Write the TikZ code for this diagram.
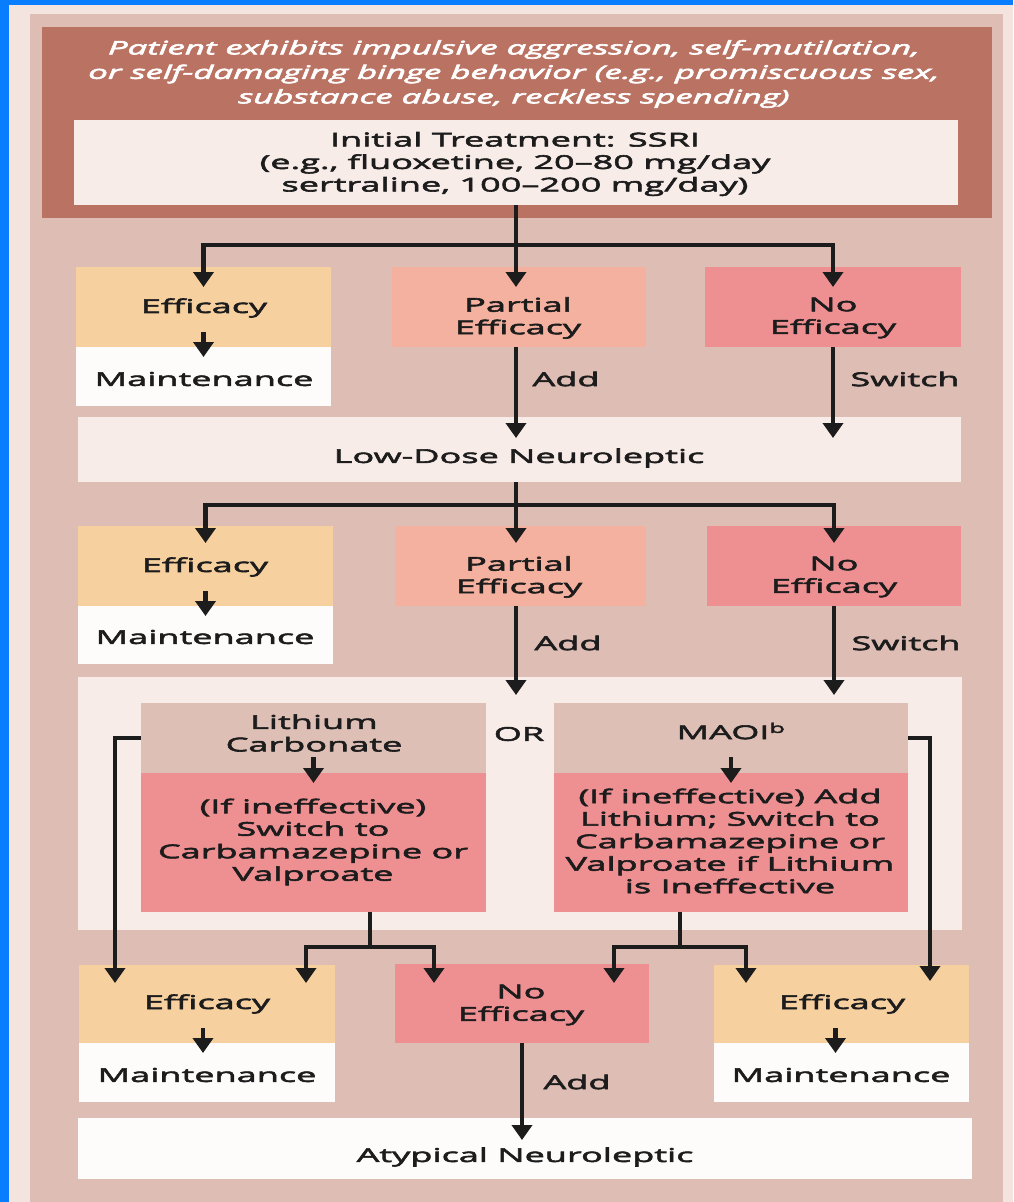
\documentclass[tikz,border=0pt]{standalone}
\usepackage{fontspec}
\setmainfont[FakeStretch=1.9,FakeBold=3]{Open Sans}
\newfontfamily\headfont[FakeStretch=1.88,FakeBold=3.5]{Open Sans}
\usetikzlibrary{arrows.meta,calc}

\definecolor{frameblue}{RGB}{8,126,255}
\definecolor{paper}{RGB}{243,228,224}
\definecolor{sheet}{RGB}{222,189,181}
\definecolor{headbrown}{RGB}{186,115,99}
\definecolor{lightbox}{RGB}{248,236,233}
\definecolor{goodbox}{RGB}{247,208,160}
\definecolor{partbox}{RGB}{244,177,159}
\definecolor{nobox}{RGB}{238,143,146}
\definecolor{tanbox}{RGB}{221,191,181}
\definecolor{whitebox}{RGB}{254,252,251}
\definecolor{ink}{RGB}{28,28,28}

\tikzset{
  blk/.style={rectangle, inner sep=0pt, outer sep=0pt, draw=none},
  lbl/.style={inner sep=0pt, align=center, text=ink, font=\fontsize{19}{22.5}\selectfont},
  headlbl/.style={inner sep=0pt, align=center, text=white, font=\headfont\itshape\fontsize{18.5}{24.5}\selectfont},
  wire/.style={draw=ink, line width=4.5pt},
  flow/.style={wire, -{Triangle[width=20pt,length=15pt]}},
}

% filled box given by its corners (x1,y1) and (x2,y2), y measured downwards
\newcommand\rectnode[6]{%
  \node[blk, fill=#2, minimum width={(#5-#3)*1pt}, minimum height={(#6-#4)*1pt}]
    (#1) at ({(#3+#5)/2},{(#4+#6)/2}) {};}

\begin{document}
\begin{tikzpicture}[x=1pt,y=-1pt]
\useasboundingbox (0,0) rectangle (1013,1202);

% page ground
\fill[frameblue] (0,0) rectangle (1013,1202);
\fill[paper] (9,5) rectangle (1013,1202);
\fill[sheet] (30,14) rectangle (1003,1202);

% boxes
\rectnode{hd}{headbrown}{42}{27}{992}{218}
\rectnode{init}{lightbox}{74}{120}{958}{205}
\rectnode{e1}{goodbox}{76}{267}{331}{347}
\rectnode{m1}{whitebox}{76}{347}{331}{406}
\rectnode{p1}{partbox}{392}{267}{646}{347}
\rectnode{n1}{nobox}{705}{267}{961}{347}
\rectnode{ld}{lightbox}{78}{417}{961}{482}
\rectnode{e2}{goodbox}{78}{526}{333}{606}
\rectnode{m2}{whitebox}{78}{606}{333}{664}
\rectnode{p2}{partbox}{395}{526}{646}{606}
\rectnode{n2}{nobox}{707}{526}{961}{606}
\rectnode{opt}{lightbox}{78}{677}{962}{930}
\rectnode{li}{tanbox}{141}{703}{486}{773}
\rectnode{lip}{nobox}{141}{773}{486}{912}
\rectnode{ma}{tanbox}{554}{703}{908}{773}
\rectnode{map}{nobox}{554}{773}{908}{912}
\rectnode{e3}{goodbox}{79}{965}{335}{1043}
\rectnode{m3}{whitebox}{79}{1043}{335}{1102}
\rectnode{n3}{nobox}{395}{964}{649}{1043}
\rectnode{e4}{goodbox}{714}{965}{969}{1043}
\rectnode{m4}{whitebox}{714}{1043}{969}{1102}
\rectnode{at}{whitebox}{78}{1118}{972}{1179}

% texts
\node[headlbl] (hdt) at (514,74) {Patient exhibits impulsive aggression, self-mutilation,\\or self-damaging binge behavior (e.g., promiscuous sex,\\substance abuse, reckless spending)};
\node[lbl] (initt) at (515,164) {Initial Treatment: SSRI\\(e.g., fluoxetine, 20–80 mg/day\\sertraline, 100–200 mg/day)};
\node[lbl] (e1t) at (204,308) {Efficacy};
\node[lbl] (m1t) at (204,379) {Maintenance};
\node[lbl] (p1t) at (518,318) {Partial\\Efficacy};
\node[lbl] (n1t) at (833,318) {No\\Efficacy};
\node[lbl] (ldt) at (519,458) {Low-Dose Neuroleptic};
\node[lbl] (e2t) at (205,567) {Efficacy};
\node[lbl] (m2t) at (205,637) {Maintenance};
\node[lbl] (p2t) at (519,577) {Partial\\Efficacy};
\node[lbl] (n2t) at (834,577) {No\\Efficacy};
\node[lbl] (lit) at (314,733) {Lithium\\Carbonate};
\node[lbl] (lipt) at (313,842) {(If ineffective)\\Switch to\\Carbamazepine or\\Valproate};
\node[lbl] (ort) at (519,734) {OR};
\node[lbl] (mat) at (731,731) {MAOI\textsuperscript{b}};
\node[lbl] (mapt) at (730,841) {(If ineffective) Add\\Lithium; Switch to\\Carbamazepine or\\Valproate if Lithium\\is Ineffective};
\node[lbl] (e3t) at (207,1004) {Efficacy};
\node[lbl] (m3t) at (207,1075) {Maintenance};
\node[lbl] (n3t) at (521,1005) {No\\Efficacy};
\node[lbl] (e4t) at (842,1004) {Efficacy};
\node[lbl] (m4t) at (841,1075) {Maintenance};
\node[lbl] (att) at (525,1157) {Atypical Neuroleptic};
\node[lbl] (add1) at (566,379) {Add};
\node[lbl] (sw1) at (905,379) {Switch};
\node[lbl] (add2) at (568,643) {Add};
\node[lbl] (sw2) at (906,643) {Switch};
\node[lbl] (add3) at (577,1082) {Add};

% first branching
\coordinate (j1) at ($(init.south)+(0,40)$);
\draw[wire] (init.south) -- (j1);
\draw[flow] (j1) -| ($(e1.north)+(0,20)$);
\draw[flow] (j1) -- ($(j1 |- p1.north)+(0,20)$);
\draw[flow] (j1) -| ($(n1.north)+(0,20)$);
\draw[flow] ($(m1.north)+(0,-15)$) -- ($(m1.north)+(0,10)$);
\draw[flow] (j1 |- p1.south) -- ($(j1 |- ld.north)+(0,21)$);
\draw[flow] (n1.south) -- ($(n1.south |- ld.north)+(0,21)$);

% second branching
\coordinate (j2) at ($(j1 |- ld.south)+(0,23)$);
\draw[wire] (j1 |- ld.south) -- (j2);
\draw[flow] (j2) -| ($(e2.north)+(0,17)$);
\draw[flow] (j2) -- ($(j2 |- p2.north)+(0,17)$);
\draw[flow] (j2) -| ($(n2.north)+(0,17)$);
\draw[flow] ($(m2.north)+(0,-15)$) -- ($(m2.north)+(0,10)$);
\draw[flow] (j2 |- p2.south) -- ($(j2 |- opt.north)+(0,18)$);
\draw[flow] (n2.south) -- ($(n2.south |- opt.north)+(0,18)$);

% options
\draw[flow] ($(lip.north)+(0,-16)$) -- ($(lip.north)+(0,10)$);
\draw[flow] ($(map.north)+(0,-16)$) -- ($(map.north)+(0,10)$);
\coordinate (lb) at (115,983);
\coordinate (rb) at (930,981);
\draw[flow] (li.west) -| (lb);
\draw[flow] (ma.east) -| (rb);

\coordinate (lj) at (370,947);
\coordinate (lt1) at (306,983);
\coordinate (lt2) at (434,983);
\draw[wire] (lj |- lip.south) -- (lj);
\draw[flow] (lj) -| (lt1);
\draw[flow] (lj) -| (lt2);

\coordinate (mj) at (680,947);
\coordinate (mt1) at (614,983);
\coordinate (mt2) at (746,983);
\draw[wire] (mj |- map.south) -- (mj);
\draw[flow] (mj) -| (mt1);
\draw[flow] (mj) -| (mt2);

% third row
\draw[flow] ($(m3.north)+(-4,-15)$) -- ($(m3.north)+(-4,10)$);
\draw[flow] ($(m4.north)+(-6,-15)$) -- ($(m4.north)+(-6,10)$);
\draw[flow] (n3.south) -- ($(n3.south |- at.north)+(0,22)$);
\end{tikzpicture}
\end{document}
